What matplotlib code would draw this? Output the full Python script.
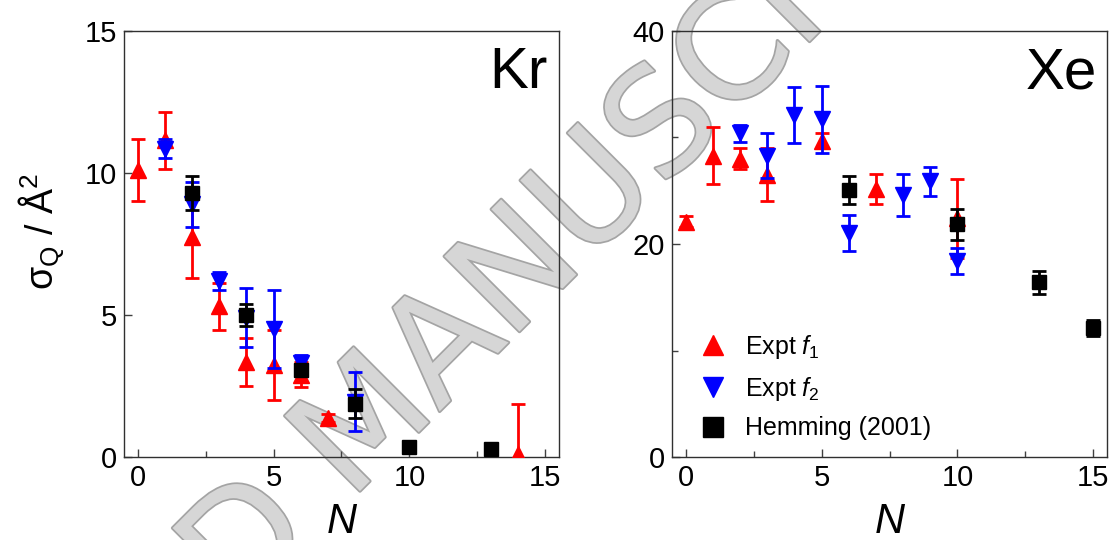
import matplotlib
matplotlib.use("Agg")
import matplotlib.pyplot as plt
import matplotlib.patheffects as pe
from matplotlib.lines import Line2D
from matplotlib.ticker import MultipleLocator

plt.rcParams['font.family'] = ['Liberation Sans', 'DejaVu Sans']
plt.rcParams['mathtext.fontset'] = 'custom'
plt.rcParams['mathtext.rm'] = 'Liberation Sans'
plt.rcParams['mathtext.it'] = 'Liberation Sans:italic'

# Kr: cross sections (A^2) vs cluster size N
kr_f1_n = [0, 1, 2, 3, 4, 5, 6, 7, 14]
kr_f1_y = [10.1, 11.15, 7.75, 5.3, 3.35, 3.25, 2.9, 1.37, 0.1]
kr_f1_e = [1.08, 1.0, 1.45, 0.82, 0.85, 1.23, 0.45, 0.15, 1.75]

kr_f2_n = [1, 2, 3, 4, 5, 6, 8]
kr_f2_y = [10.85, 8.9, 6.2, 4.9, 4.5, 3.3, 1.95]
kr_f2_e = [0.33, 0.79, 0.33, 1.04, 1.37, 0.3, 1.05]

kr_hem_n = [2, 4, 6, 8, 10, 13]
kr_hem_y = [9.3, 5.0, 3.06, 1.88, 0.35, 0.28]
kr_hem_e = [0.6, 0.4, 0.2, 0.5, 0.15, 0.1]

# Xe
xe_f1_n = [0, 1, 2, 3, 5, 7, 10]
xe_f1_y = [22.1, 28.3, 28.0, 26.5, 29.7, 25.2, 22.4]
xe_f1_e = [0.5, 2.65, 1.0, 2.5, 0.7, 1.4, 3.7]

xe_f2_n = [2, 3, 4, 5, 6, 8, 9, 10]
xe_f2_y = [30.4, 28.3, 32.1, 31.7, 21.05, 24.6, 25.9, 18.4]
xe_f2_e = [0.8, 2.1, 2.6, 3.15, 1.7, 2.0, 1.35, 1.25]

xe_hem_n = [6, 10, 13, 15]
xe_hem_y = [25.05, 21.85, 16.4, 12.15]
xe_hem_e = [1.3, 1.45, 1.1, 0.75]

labels = ['Expt $f_1$', 'Expt $f_2$', 'Hemming (2001)']
colors = ['#ff0000', '#0000ff', '#000000']
markers = ['^', 'v', 's']
msizes = [12, 12, 10.5]

fig = plt.figure(figsize=(11.13, 5.4), dpi=100)
ax1 = fig.add_axes([0.1114, 0.1537, 0.3908, 0.7889])
ax2 = fig.add_axes([0.6038, 0.1537, 0.3908, 0.7889])


def draw(ax, series):
    for k, (n, y, e) in enumerate(series):
        ax.errorbar(n, y, yerr=e, fmt=markers[k], color=colors[k], ms=msizes[k],
                    elinewidth=2, capsize=5, capthick=2, zorder=3 + k)


draw(ax1, [(kr_f1_n, kr_f1_y, kr_f1_e), (kr_f2_n, kr_f2_y, kr_f2_e),
           (kr_hem_n, kr_hem_y, kr_hem_e)])
draw(ax2, [(xe_f1_n, xe_f1_y, xe_f1_e), (xe_f2_n, xe_f2_y, xe_f2_e),
           (xe_hem_n, xe_hem_y, xe_hem_e)])

ax1.set_xlim(-0.5, 15.5)
ax1.set_ylim(0, 15)
ax1.yaxis.set_major_locator(MultipleLocator(5))
ax2.set_xlim(-0.5, 15.5)
ax2.set_ylim(0, 40)
ax2.yaxis.set_major_locator(MultipleLocator(20))
ax2.yaxis.set_minor_locator(MultipleLocator(10))

for ax in (ax1, ax2):
    ax.set_facecolor('none')
    ax.xaxis.set_major_locator(MultipleLocator(5))
    ax.xaxis.set_minor_locator(MultipleLocator(2.5))
    ax.tick_params(which='both', direction='in', top=False, right=False,
                   labelsize=21, width=1, color='#404040')
    ax.tick_params(which='major', length=6, pad=5)
    ax.tick_params(which='minor', length=4)
    for s in ax.spines.values():
        s.set_linewidth(1)
        s.set_color('#303030')
    ax.set_xlabel('N', fontsize=30, style='italic', va='top')
    ax.xaxis.set_label_coords(0.5, -0.105)

ax1.set_ylabel(r'σ$_\mathrm{Q}$ / Å$^2$', fontsize=27)
ax1.yaxis.set_label_coords(-0.13, 0.53)

ax1.text(0.975, 0.866, 'Kr', transform=ax1.transAxes, fontsize=42,
         ha='right', va='baseline')
ax2.text(0.977, 0.866, 'Xe', transform=ax2.transAxes, fontsize=42,
         ha='right', va='baseline')

handles = [Line2D([], [], ls='none', marker=markers[k], color=colors[k], ms=14)
           for k in range(3)]
ax2.legend(handles, labels, loc='lower left', bbox_to_anchor=(0.0, -0.014),
           frameon=False, fontsize=18, handletextpad=0.5, labelspacing=0.55,
           handlelength=1.5)

# watermark behind both panels
fig.text(0.358, 0.162, 'ACCEPTED MANUSCRIPT', fontsize=105, color='#d6d6d6',
         family='DejaVu Sans', rotation=45, rotation_mode='anchor',
         ha='center', va='baseline', zorder=-1,
         path_effects=[pe.Stroke(linewidth=2.5, foreground='#a4a4a4'),
                       pe.Normal()])

fig.savefig('out.png', dpi=100)
